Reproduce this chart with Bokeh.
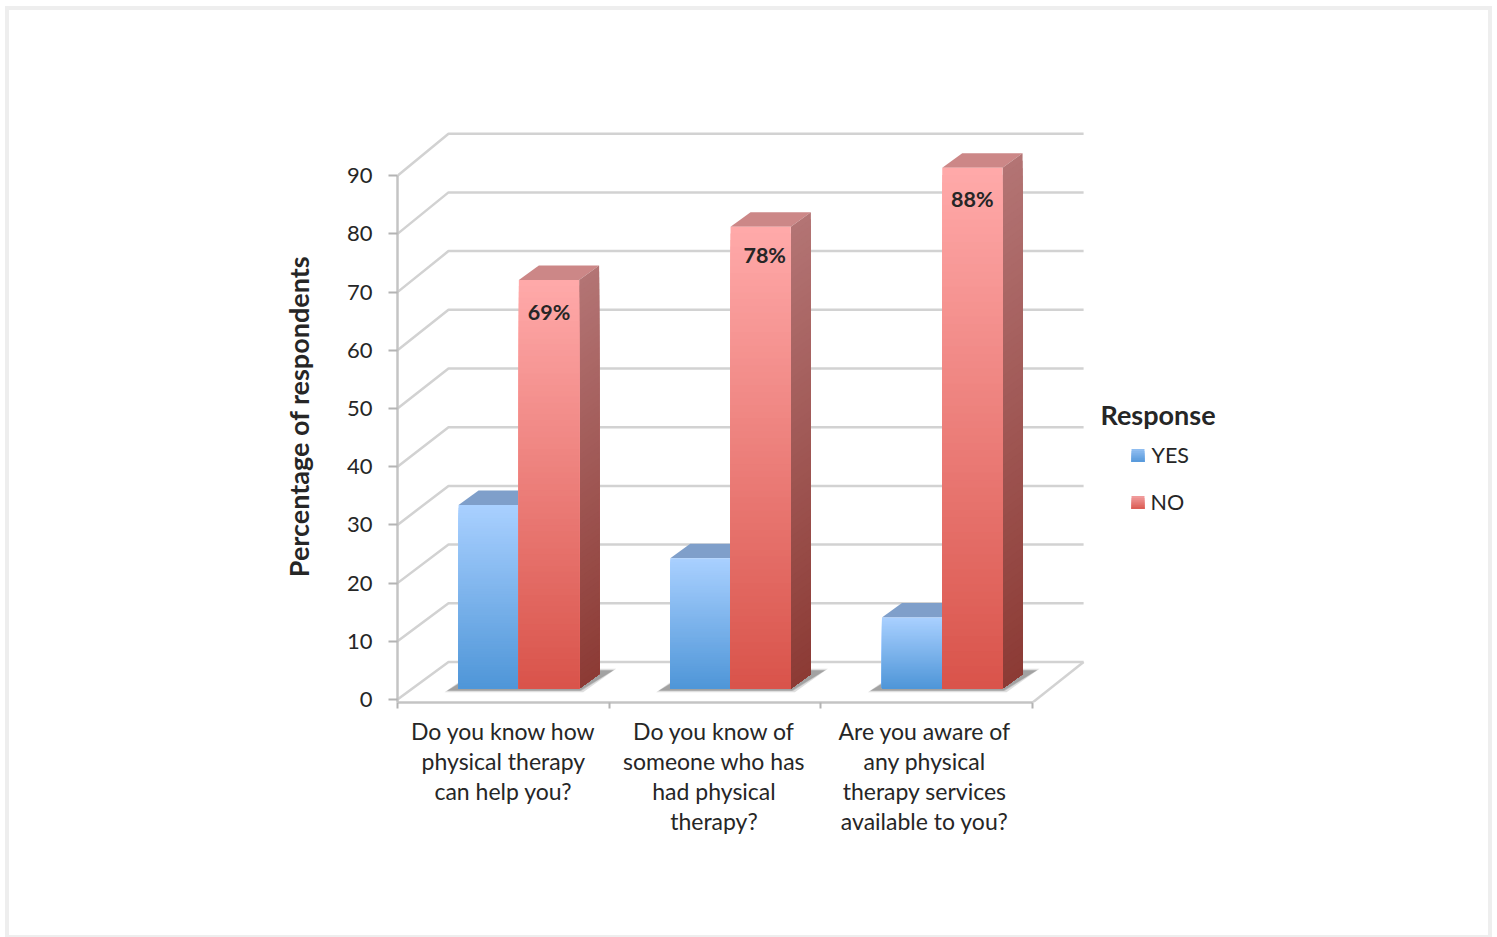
from bokeh.core.properties import value
from bokeh.embed import file_html
from bokeh.models import FixedTicker, Range1d
from bokeh.plotting import figure
from bokeh.resources import INLINE

# Survey results, in percent of respondents
categories = [
    "Do you know how\nphysical therapy\ncan help you?",
    "Do you know of\nsomeone who has\nhad physical\ntherapy?",
    "Are you aware of\nany physical\ntherapy services\navailable to you?",
]
yes_values = [31, 22, 12]
no_values = [69, 78, 88]
no_labels = ["69%", "78%", "88%"]
y_ticks = [0, 10, 20, 30, 40, 50, 60, 70, 80, 90]
category_label_ticks = [0.5, 1.495, 2.49]

# Page geometry: one category is PX_X pixels wide, one percent is PX_Y pixels tall
WIDTH, HEIGHT = 1497, 937
LEFT, BOTTOM, TOP = 397, 702, 130
ZERO_PX = 699
PX_X, PX_Y = 211.7, 5.82


def dx(px):
    return px / PX_X


def dy(px):
    return px / PX_Y


def page_x(px):
    return (px - LEFT) / PX_X


def page_y(px):
    return (ZERO_PX - px) / PX_Y


def mix(c0, c1, t):
    a = [int(c0[i:i + 2], 16) for i in (1, 3, 5)]
    b = [int(c1[i:i + 2], 16) for i in (1, 3, 5)]
    return "#%02x%02x%02x" % tuple(round(u + (v - u) * t) for u, v in zip(a, b))


FONT = value("Lato")
GRID = "#d2d2d2"
AXIS = "#c4c4c4"
TEXT = "#262626"
BAND = "linear-gradient(#eeeeee, #eeeeee)"

p = figure(
    width=WIDTH, height=HEIGHT, output_backend="svg", toolbar_location=None,
    x_range=Range1d(0, page_x(WIDTH)),
    y_range=Range1d(page_y(BOTTOM), page_y(TOP)),
    min_border_left=LEFT, min_border_right=0,
    min_border_top=TOP, min_border_bottom=HEIGHT - BOTTOM,
    outline_line_color=None, border_fill_alpha=0, background_fill_alpha=0,
)
p.xgrid.visible = False
p.ygrid.visible = False

# Thin page frame, painted behind the transparent canvas
p.styles = {
    "background": ", ".join([
        f"{BAND} 5px 6px / 4px 931px no-repeat",
        f"{BAND} 1488px 6px / 4px 931px no-repeat",
        f"{BAND} 5px 6px / 1487px 4px no-repeat",
        f"{BAND} 5px 935px / 1487px 2px no-repeat",
    ]),
}

# Back wall and the slanted side wall
DEPTH_X = dx(51)
BACK_BASE = dy(ZERO_PX - 661.5)
BACK_SCALE = 1.0086
RIGHT_END = 3 + DEPTH_X

for v in y_ticks:
    back = BACK_BASE + v * BACK_SCALE
    p.line([0, DEPTH_X, RIGHT_END], [v, back, back], line_color=GRID, line_width=2.5)

# Floor edges
floor_y = page_y(BOTTOM)
p.line([3, RIGHT_END], [floor_y, BACK_BASE], line_color=GRID, line_width=2.5)

# Bars stand part-way into the box and read slightly larger there
BAR_BASE = page_y(688)
BAR_SCALE = 1.017
BAR_SHIFT = dx(15.5)
BAR_W = dx(60.3)
TOP_DX, TOP_DY = dx(20), dy(14.5)
STRIPS = 70


# Gradients are painted top to bottom; each strip reaches the base of the bar,
# so the next strip overlays it and no seams show through.
def front_strips(x0, x1, val, c_top, c_bottom):
    height = val * BAR_SCALE
    tops = [BAR_BASE + height * (1 - k / STRIPS) for k in range(STRIPS)]
    colors = [mix(c_top, c_bottom, k / (STRIPS - 1)) for k in range(STRIPS)]
    p.quad(left=[x0] * STRIPS, right=[x1] * STRIPS, top=tops,
           bottom=[BAR_BASE] * STRIPS, fill_color=colors, line_color=None)


def side_strips(x1, val, c_top, c_bottom):
    height = val * BAR_SCALE
    xs, ys, colors = [], [], []
    for k in range(STRIPS):
        hi = BAR_BASE + height * (1 - k / STRIPS)
        xs.append([x1, x1 + TOP_DX, x1 + TOP_DX, x1])
        ys.append([hi, hi + TOP_DY, BAR_BASE + TOP_DY, BAR_BASE])
        colors.append(mix(c_top, c_bottom, k / (STRIPS - 1)))
    p.patches(xs, ys, fill_color=colors, line_color=None)


for i, (yes, no) in enumerate(zip(yes_values, no_values)):
    mid = i + 0.5 + BAR_SHIFT
    x0, x1, x2 = mid - BAR_W, mid, mid + BAR_W

    # Floor shadow, with a softer rim
    for grow, alpha in ((3, 0.25), (1, 0.35), (0, 0.45)):
        sx0, sx1 = x0 - dx(11 + grow), x2 + dx(1 + grow)
        low = BAR_BASE - dy(2 + grow * 0.6)
        high = BAR_BASE + dy(18 + grow * 0.6)
        p.patch([sx0, sx1, sx1 + dx(33), sx0 + dx(33)], [low, low, high, high],
                fill_color="#808080", fill_alpha=alpha, line_color=None)

    # Top faces
    for a, b, val, col in ((x0, x1, yes, "#7f9fca"), (x1, x2, no, "#cc8787")):
        h = BAR_BASE + val * BAR_SCALE
        p.patch([a, b, b + TOP_DX, a + TOP_DX], [h, h, h + TOP_DY, h + TOP_DY],
                fill_color=col, line_color=None)

    side_strips(x2, no, "#b37474", "#8c3b35")
    front_strips(x0, x1, yes, "#a9d0ff", "#4f96d8")
    front_strips(x1, x2, no, "#ffa9a9", "#d9544b")

# Value labels on the NO bars
label_nudge_x = [0, 4, 0]
label_nudge_y = [32, 28, 31]
for i, (no, text) in enumerate(zip(no_values, no_labels)):
    p.text(
        x=[i + 0.5 + BAR_SHIFT + BAR_W / 2 + dx(label_nudge_x[i])],
        y=[BAR_BASE + no * BAR_SCALE - dy(label_nudge_y[i])],
        text=[text], text_font=FONT, text_font_style="bold",
        text_font_size="21.5px", text_color=TEXT,
        text_align="center", text_baseline="middle",
    )

# Legend
p.text(x=[page_x(1100)], y=[page_y(414)], text=["Response"], text_font=FONT,
       text_font_style="bold", text_font_size="27px", text_color=TEXT,
       text_align="left", text_baseline="middle")
for name, cy, c_top, c_bottom, tx in (
    ("YES", 455, "#8fbdf0", "#5a9bdc", 1151),
    ("NO", 502, "#f09a9a", "#dc5f57", 1150),
):
    for k in range(6):
        sy = cy - 6.5 + k * 13 / 6
        p.quad(left=[page_x(1131)], right=[page_x(1144)],
               top=[page_y(sy)], bottom=[page_y(cy + 6.5)],
               fill_color=mix(c_top, c_bottom, k / 5), line_color=None)
    p.text(x=[page_x(tx)], y=[page_y(cy - 1)], text=[name], text_font=FONT,
           text_font_size="21.5px", text_color=TEXT,
           text_align="left", text_baseline="middle")

# Value axis
y_axis = p.yaxis[0]
y_axis.ticker = FixedTicker(ticks=y_ticks)
y_axis.bounds = (page_y(BOTTOM), 90)
y_axis.axis_label = "Percentage of respondents"
y_axis.axis_label_text_font = "Lato"
y_axis.axis_label_text_font_style = "bold"
y_axis.axis_label_text_font_size = "27px"
y_axis.axis_label_text_color = TEXT
y_axis.axis_label_standoff = 29
y_axis.major_label_text_font = "Lato"
y_axis.major_label_text_font_size = "22px"
y_axis.major_label_text_color = TEXT
y_axis.major_label_standoff = 16
y_axis.axis_line_color = AXIS
y_axis.axis_line_width = 2.5
y_axis.major_tick_line_color = "#b4b4b4"
y_axis.major_tick_line_width = 2
y_axis.major_tick_in = 0
y_axis.major_tick_out = 9
y_axis.minor_tick_line_color = None

# Category axis: boundary marks between groups, labels centred on each group
x_axis = p.xaxis[0]
x_axis.ticker = FixedTicker(ticks=category_label_ticks, minor_ticks=[0, 1, 2, 3])
x_axis.major_label_overrides = dict(zip(category_label_ticks, categories))
x_axis.bounds = (0, 3)
x_axis.major_label_text_font = "Lato"
x_axis.major_label_text_font_size = "23px"
x_axis.major_label_text_color = TEXT
x_axis.major_label_text_line_height = 1.08
x_axis.major_label_standoff = 8
x_axis.major_tick_line_color = None
x_axis.axis_line_color = AXIS
x_axis.axis_line_width = 2.5
x_axis.minor_tick_line_color = "#b4b4b4"
x_axis.minor_tick_line_width = 2
x_axis.minor_tick_in = 0
x_axis.minor_tick_out = 6

open("out.html", "w").write(file_html(p, INLINE))
